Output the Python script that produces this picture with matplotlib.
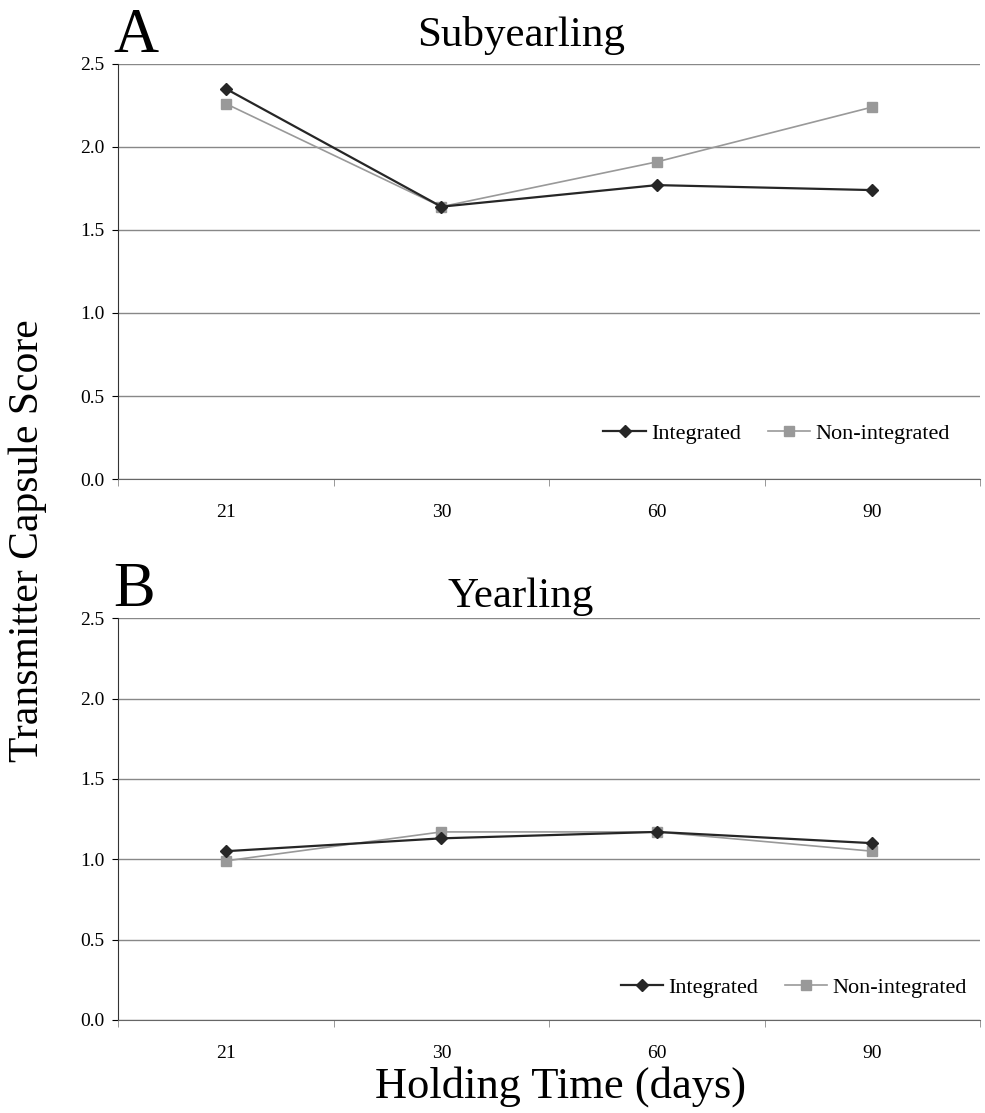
import matplotlib.pyplot as plt
import numpy as np

plt.rcParams['font.family'] = ['Liberation Serif', 'DejaVu Serif']

days = ['21', '30', '60', '90']
sub_integrated = [2.35, 1.64, 1.77, 1.74]
sub_nonintegrated = [2.26, 1.64, 1.91, 2.24]
year_integrated = [1.05, 1.13, 1.17, 1.10]
year_nonintegrated = [0.99, 1.17, 1.17, 1.05]

W, H = 985, 1113
fig = plt.figure(figsize=(W / 100, H / 100), dpi=100)


def panel(rect, integ, nonint, title, letter, legend_loc, title_pad):
    ax = fig.add_axes(rect)
    x = np.arange(len(days))
    ax.plot(x, integ, color='#262626', marker='D', markersize=6, lw=1.6,
            label='Integrated', zorder=3)
    ax.plot(x, nonint, color='#999999', marker='s', markersize=7, lw=1.2,
            label='Non-integrated', zorder=2)
    ax.set_xlim(-0.5, 3.5)
    ax.set_ylim(0, 2.5)
    yt = np.arange(0, 2.51, 0.5)
    ax.set_yticks(yt)
    ax.set_yticklabels([f'{v:.1f}' for v in yt])
    ax.set_xticks(x)
    ax.set_xticklabels(days)
    ax.set_xticks(np.arange(-0.5, 3.6, 1), minor=True)
    ax.tick_params(axis='x', which='major', length=0, pad=18, labelsize=14)
    ax.tick_params(axis='x', which='minor', length=5, color='#888888')
    ax.tick_params(axis='y', length=4, labelsize=14, pad=6)
    ax.grid(axis='y', color='#888888', lw=1.0)
    ax.set_axisbelow(True)
    for s in ['top', 'right']:
        ax.spines[s].set_visible(False)
    ax.spines['left'].set_color('#333333')
    ax.spines['bottom'].set_color('#666666')
    ax.legend(loc='lower right', bbox_to_anchor=legend_loc, ncol=2,
              frameon=False, fontsize=16, handlelength=1.9, columnspacing=1.2,
              handletextpad=0.25, borderpad=0, borderaxespad=0)
    ax.set_title(title, fontsize=31, pad=title_pad, x=0.467)
    ax.text(-0.006, 0.995, letter, transform=ax.transAxes, fontsize=45,
            ha='left', va='bottom')
    return ax


panel([0.120, 0.5696, 0.875, 0.373], sub_integrated, sub_nonintegrated,
      'Subyearling', 'A', (0.965, 0.085), 13)
panel([0.120, 0.0836, 0.875, 0.361], year_integrated, year_nonintegrated,
      'Yearling', 'B', (0.985, 0.055), 8)

fig.text(0.028, 0.514, 'Transmitter Capsule Score', rotation=90,
         fontsize=30, ha='center', va='center')
fig.text(0.569, 0.024, 'Holding Time (days)', fontsize=32,
         ha='center', va='center')

fig.savefig('out.png', dpi=100)
